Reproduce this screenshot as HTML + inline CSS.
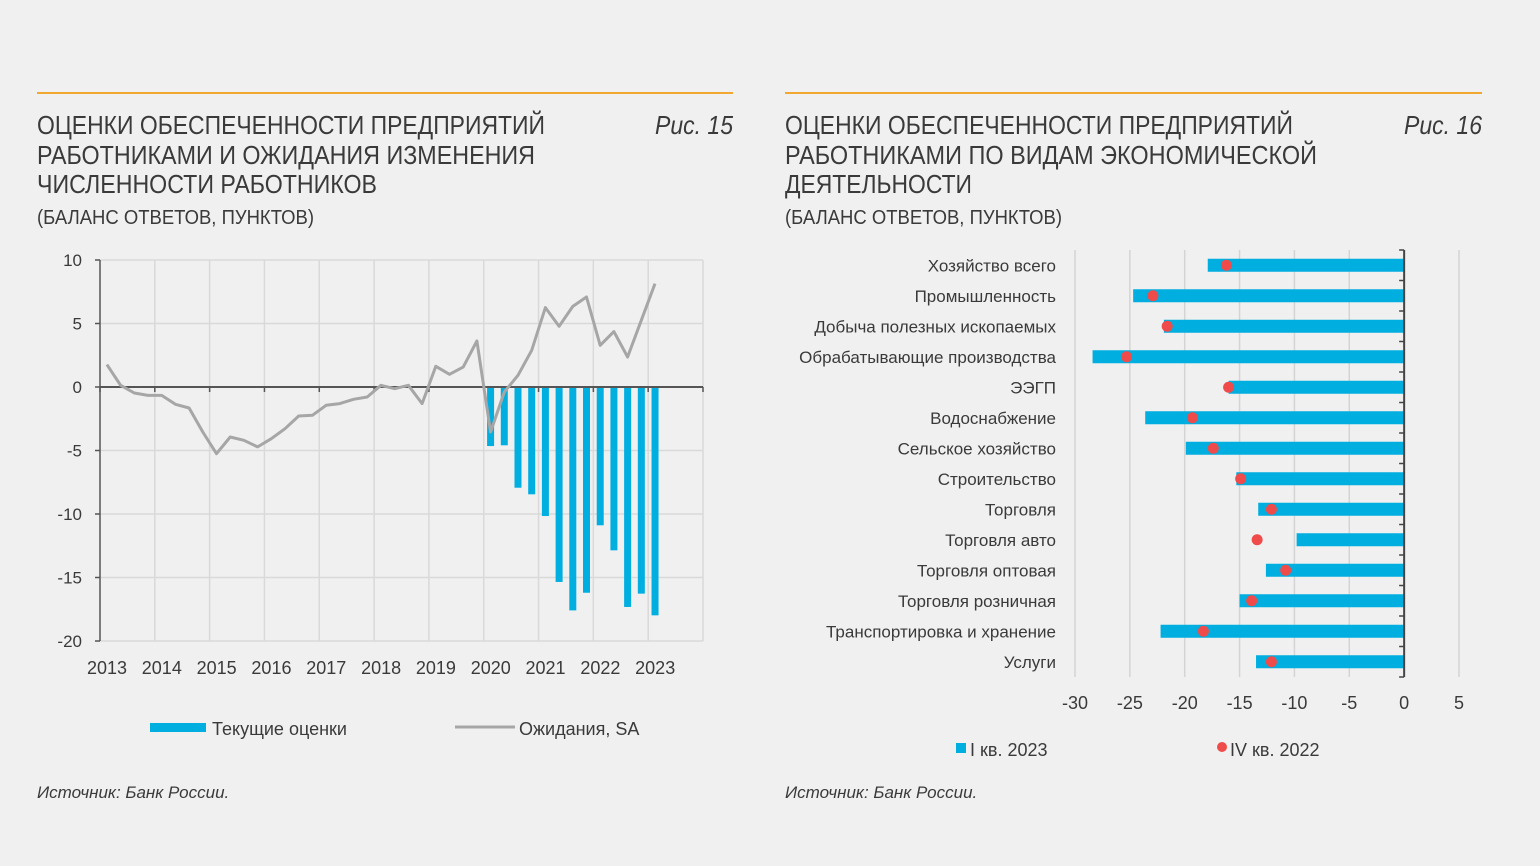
<!DOCTYPE html>
<html><head><meta charset="utf-8">
<style>
html,body{margin:0;padding:0;background:#f0f0f0;}
svg{display:block;}
text{font-family:"Liberation Sans","DejaVu Sans",sans-serif;fill:#3a3a3a;}
</style></head>
<body>
<svg id="root" width="1540" height="866" viewBox="0 0 1540 866" xmlns="http://www.w3.org/2000/svg">
<rect x="0" y="0" width="1540" height="866" fill="#f0f0f0"/>
<!-- Left header -->
<g>
<line x1="37" y1="93" x2="733" y2="93" stroke="#f0a830" stroke-width="2"/>
<text x="37" y="134" font-size="26" textLength="508" lengthAdjust="spacingAndGlyphs">ОЦЕНКИ ОБЕСПЕЧЕННОСТИ ПРЕДПРИЯТИЙ</text>
<text x="37" y="164" font-size="26" textLength="498" lengthAdjust="spacingAndGlyphs">РАБОТНИКАМИ И ОЖИДАНИЯ ИЗМЕНЕНИЯ</text>
<text x="37" y="193" font-size="26" textLength="340" lengthAdjust="spacingAndGlyphs">ЧИСЛЕННОСТИ РАБОТНИКОВ</text>
<text x="37" y="224" font-size="20" textLength="277" lengthAdjust="spacingAndGlyphs">(БАЛАНС ОТВЕТОВ, ПУНКТОВ)</text>
<text x="733" y="134" font-size="26" font-style="italic" text-anchor="end" textLength="78" lengthAdjust="spacingAndGlyphs">Рис. 15</text>
</g>
<g>
<line x1="785" y1="93" x2="1482" y2="93" stroke="#f0a830" stroke-width="2"/>
<text x="785" y="134" font-size="26" textLength="508" lengthAdjust="spacingAndGlyphs">ОЦЕНКИ ОБЕСПЕЧЕННОСТИ ПРЕДПРИЯТИЙ</text>
<text x="785" y="164" font-size="26" textLength="532" lengthAdjust="spacingAndGlyphs">РАБОТНИКАМИ ПО ВИДАМ ЭКОНОМИЧЕСКОЙ</text>
<text x="785" y="193" font-size="26" textLength="187" lengthAdjust="spacingAndGlyphs">ДЕЯТЕЛЬНОСТИ</text>
<text x="785" y="224" font-size="20" textLength="277" lengthAdjust="spacingAndGlyphs">(БАЛАНС ОТВЕТОВ, ПУНКТОВ)</text>
<text x="1482" y="134" font-size="26" font-style="italic" text-anchor="end" textLength="78" lengthAdjust="spacingAndGlyphs">Рис. 16</text>
</g>
<g id="left-chart"></g>
<g id="right-chart"></g>
<!-- legends -->
<g>
<g>
<rect x="150" y="723" width="56" height="9" fill="#00aee0"/>
<text x="212" y="735" font-size="18">Текущие оценки</text>
</g>
<g>
<line x1="455" y1="727" x2="515" y2="727" stroke="#a6a6a6" stroke-width="3"/>
<text x="519" y="735" font-size="18">Ожидания, SA</text>
</g>
</g>
<g>
<g>
<rect x="956" y="743" width="10" height="10" fill="#00aee0"/>
<text x="970" y="756" font-size="18">I кв. 2023</text>
</g>
<g>
<circle cx="1222" cy="747" r="5" fill="#ef4b4b"/>
<text x="1230" y="756" font-size="18">IV кв. 2022</text>
</g>
</g>
<text x="37" y="798" font-size="17" font-style="italic">Источник: Банк России.</text>
<text x="785" y="798" font-size="17" font-style="italic">Источник: Банк России.</text>
</svg>
<script>
const NS = "http://www.w3.org/2000/svg";
// ---------- Left chart data ----------
const yearLabels = ["2013","2014","2015","2016","2017","2018","2019","2020","2021","2022","2023"];
const yTicksLeft = [10,5,0,-5,-10,-15,-20];
const expectations = [1.76,0.13,-0.47,-0.66,-0.66,-1.36,-1.65,-3.54,-5.25,-3.94,-4.2,-4.72,-4.07,-3.28,-2.28,-2.23,-1.44,-1.31,-0.97,-0.79,0.13,-0.13,0.13,-1.31,1.63,1.0,1.57,3.62,-3.54,-0.39,0.92,2.89,6.25,4.78,6.35,7.09,3.28,4.36,2.36,5.25,8.14];
const currentStartIndex = 28;
const currentEstimates = [-4.65,-4.59,-7.93,-8.45,-10.16,-15.35,-17.59,-16.2,-10.89,-12.86,-17.32,-16.27,-17.98];
// ---------- Right chart data ----------
const sectors = ["Хозяйство всего","Промышленность","Добыча полезных ископаемых","Обрабатывающие производства","ЭЭГП","Водоснабжение","Сельское хозяйство","Строительство","Торговля","Торговля авто","Торговля оптовая","Торговля розничная","Транспортировка и хранение","Услуги"];
const q1_2023 = [-17.9,-24.7,-21.9,-28.4,-16.0,-23.6,-19.9,-15.3,-13.3,-9.8,-12.6,-15.0,-22.2,-13.5];
const q4_2022 = [-16.2,-22.9,-21.6,-25.3,-16.0,-19.3,-17.4,-14.9,-12.1,-13.4,-10.8,-13.9,-18.3,-12.1];
const xTicksRight = [-30,-25,-20,-15,-10,-5,0,5];

function mk(tag, attrs, parent){
  const e = document.createElementNS(NS, tag);
  for (const k in attrs) e.setAttribute(k, attrs[k]);
  parent.appendChild(e);
  return e;
}

// Left chart
(function(){
  const g = document.getElementById('left-chart');
  const x0 = 100, x1 = 703, yTop = 260, yBot = 641;
  const yMin = -20, yMax = 10;
  const nQ = yearLabels.length * 4;
  const qw = (x1 - x0) / nQ;
  const ys = v => yTop + (yMax - v) / (yMax - yMin) * (yBot - yTop);
  const xs = i => x0 + (i + 0.5) * qw;
  // grid
  yTicksLeft.forEach(t => {
    const y = ys(t);
    if (t !== 0) {
      const l = mk('line', {x1:x0, x2:x1, y1:y, y2:y, stroke:'#d9d9d9', 'stroke-width':1.5}, g);
      
      
    }
    const tk = mk('line', {x1:x0-5, x2:x0, y1:y, y2:y, stroke:'#555', 'stroke-width':1.5}, g);
    
    
    const tx = mk('text', {x:82, y:y+6, 'font-size':17, 'text-anchor':'end'}, g);
    tx.textContent = t;
    
    
  });
  for (let k = 1; k <= yearLabels.length; k++) {
    const x = x0 + k * 4 * qw;
    const l = mk('line', {x1:x, x2:x, y1:yTop, y2:yBot, stroke:'#d9d9d9', 'stroke-width':1.5}, g);
    
    
  }
  yearLabels.forEach((lab, k) => {
    const tx = mk('text', {x:x0 + k*4*qw + 7, y:674, 'font-size':18, 'text-anchor':'middle'}, g);
    tx.textContent = lab;
    
    
  });
  const ax = mk('line', {x1:x0, x2:x0, y1:yTop, y2:yBot, stroke:'#555', 'stroke-width':1.5}, g);
  
  
  // bars
  currentEstimates.forEach((v, j) => {
    const i = currentStartIndex + j;
    const y0 = ys(0), y = ys(v);
    const r = mk('rect', {x:xs(i)-3.5, y:Math.min(y0,y), width:7, height:Math.abs(y-y0), fill:'#00aee0'}, g);
    
    
  });
  // zero axis
  const z = mk('line', {x1:x0, x2:x1, y1:ys(0), y2:ys(0), stroke:'#555', 'stroke-width':2}, g);
  
  
  for (let k = 0; k <= yearLabels.length; k++) {
    const x = x0 + k*4*qw;
    const t = mk('line', {x1:x, x2:x, y1:ys(0), y2:ys(0)+5, stroke:'#555', 'stroke-width':1.5}, g);
    
    
  }
  // line
  const pts = expectations.map((v,i) => xs(i).toFixed(1) + ',' + ys(v).toFixed(1)).join(' ');
  const pl = mk('polyline', {points:pts, fill:'none', stroke:'#a6a6a6', 'stroke-width':3, 'stroke-linejoin':'round'}, g);
  
  
})();

// Right chart
(function(){
  const g = document.getElementById('right-chart');
  const vMin = -30, vMax = 5;
  const px0 = 1075, px1 = 1459;
  const xs = v => px0 + (v - vMin) / (vMax - vMin) * (px1 - px0);
  const yTop = 250, rowH = 30.5;
  const yc = i => yTop + (i + 0.5) * rowH;
  const yBot = yTop + sectors.length * rowH;
  xTicksRight.forEach(t => {
    const x = xs(t);
    if (t !== 0) {
      const l = mk('line', {x1:x, x2:x, y1:yTop, y2:yBot, stroke:'#d4d4d4', 'stroke-width':1.5}, g);
      
      
    }
    const tx = mk('text', {x:x, y:709, 'font-size':18, 'text-anchor':'middle'}, g);
    tx.textContent = t;
    
    
  });
  sectors.forEach((s, i) => {
    const tx = mk('text', {x:1056, y:yc(i)+6, 'font-size':17, 'text-anchor':'end'}, g);
    tx.textContent = s;
    
    
    const v = q1_2023[i];
    const r = mk('rect', {x:Math.min(xs(v), xs(0)), y:yc(i)-6.5, width:Math.abs(xs(0)-xs(v)), height:13, fill:'#00aee0'}, g);
    
    
  });
  const ax = mk('line', {x1:xs(0), x2:xs(0), y1:yTop, y2:yBot, stroke:'#444', 'stroke-width':2}, g);
  
  
  for (let i = 0; i <= sectors.length; i++) {
    const t = mk('line', {x1:xs(0)-5, x2:xs(0), y1:yTop+i*rowH, y2:yTop+i*rowH, stroke:'#444', 'stroke-width':1.5}, g);
    
    
  }
  q4_2022.forEach((v, i) => {
    const c = mk('circle', {cx:xs(v), cy:yc(i), r:5.5, fill:'#ef4b4b'}, g);
    
    
  });
})();
</script>
</body></html>
